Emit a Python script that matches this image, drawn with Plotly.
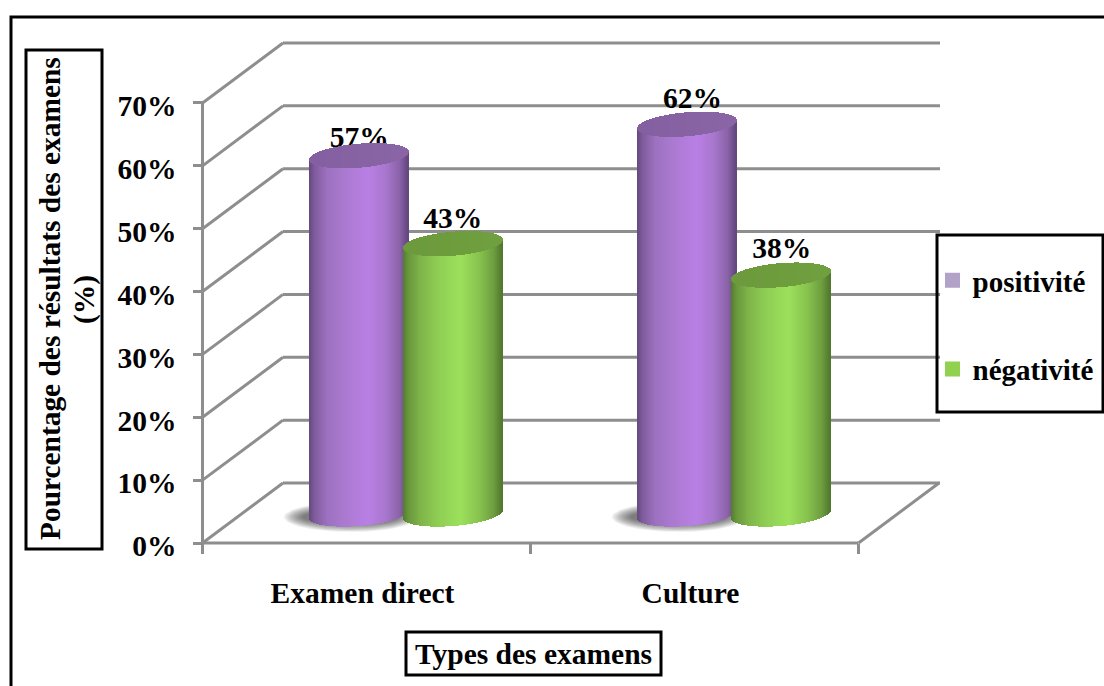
import numpy as np
import plotly.graph_objects as go

# Chart data
categories = ["Examen direct", "Culture"]
series_names = ["positivité", "négativité"]
positivite = [57, 62]
negativite = [43, 38]
y_ticks = [0, 10, 20, 30, 40, 50, 60, 70]

# Fine placement of the value labels above each cylinder, in axis units
label_lift = {"positivité": [2.5, 3.7], "négativité": [3.7, 3.85]}
label_shift = {"positivité": [0.002, 0.018], "négativité": [0.0, 0.003]}

# Pixel geometry of the figure
W, H = 1104, 686
PLOT_L, PLOT_R, PLOT_T, PLOT_B = 198, 944, 38, 548
ORIGIN_X, ORIGIN_Y = 202.5, 543
PX_PER_CAT, PX_PER_PCT = 328.0, 6.286

x_range = [(PLOT_L - ORIGIN_X) / PX_PER_CAT, (PLOT_R - ORIGIN_X) / PX_PER_CAT]
y_range = [(ORIGIN_Y - PLOT_B) / PX_PER_PCT, (ORIGIN_Y - PLOT_T) / PX_PER_PCT]

# Perspective offset of the back wall, and cylinder proportions
DEPTH_X, DEPTH_Y = 80.5 / PX_PER_CAT, 60 / PX_PER_PCT
FLOOR_LIFT = 29 / PX_PER_PCT
CENTER_SHIFT = [-47 / PX_PER_CAT, 47 / PX_PER_CAT]
CAT_CENTER = [0.5 + 0.1195, 1.5 + 0.1195]
HALF_W = 49.5 / PX_PER_CAT
ELL_B = 12 / PX_PER_PCT
ELL_SHEAR = 4 / PX_PER_PCT
N_STRIPS = 99

PURPLE_STOPS = [(0, "#664a80"), (0.05, "#7f5c9c"), (0.18, "#9d71c0"), (0.35, "#aa7ad0"),
                (0.6, "#ba80e5"), (0.78, "#a877ce"), (0.92, "#8b63a9"), (1, "#644880")]
GREEN_STOPS = [(0, "#557f30"), (0.05, "#69973d"), (0.18, "#80b64a"), (0.35, "#8fce54"),
               (0.58, "#9ce15c"), (0.78, "#87c24e"), (0.92, "#6e9e40"), (1, "#527a2e")]
PURPLE_CAP = ("#8460a2", "#8a66a6")
GREEN_CAP = ("#6c9a3c", "#70a040")
GRID_COLOR = "#8e8e8e"
FONT = "Liberation Serif"
FS = 29.5
FS_SIDE = 29.4
FS_LEGEND = 29


def hex_rgb(c):
    return np.array([int(c[i:i + 2], 16) for i in (1, 3, 5)], dtype=float)


def ramp(stops, n):
    pos = [s[0] for s in stops]
    rgb = np.array([hex_rgb(s[1]) for s in stops])
    out = []
    for f in np.linspace(0, 1, n):
        vals = [np.interp(f, pos, rgb[:, k]) for k in range(3)]
        out.append("rgb(%d,%d,%d)" % tuple(vals))
    return out


def cylinder_traces(center, value, stops, cap):
    """Body and cap of one cylinder, built as thin bars on the shared axes."""
    t = (np.arange(N_STRIPS) + 0.5) / N_STRIPS * 2 - 1
    xs = center + t * HALF_W
    arc = ELL_B * np.sqrt(1 - t ** 2)
    tilt = ELL_SHEAR * t
    mid = value + FLOOR_LIFT
    strip = 2 * HALF_W / N_STRIPS * 1.25
    bottom = FLOOR_LIFT + tilt - arc
    body = go.Bar(x=xs, base=bottom, y=mid + tilt - bottom, width=strip,
                  marker=dict(color=ramp(stops, N_STRIPS), line_width=0),
                  xaxis="x2", yaxis="y2", showlegend=False, hoverinfo="skip")
    top = go.Bar(x=xs, base=mid + tilt - arc, y=2 * arc, width=strip,
                 marker=dict(color=ramp([(0, cap[0]), (1, cap[1])], N_STRIPS), line_width=0),
                 xaxis="x2", yaxis="y2", showlegend=False, hoverinfo="skip")
    return [body, top]


def shadow_traces(center):
    """Soft floor shadow, stacked translucent ellipses."""
    out = []
    th = np.linspace(0, 2 * np.pi, 80)
    cx = center - 8 / PX_PER_CAT
    for k in range(12):
        rx = (67 - 1.7 * k) / PX_PER_CAT
        ry = (15 - 0.7 * k) / PX_PER_PCT
        out.append(go.Scatter(x=cx + rx * np.cos(th),
                              y=FLOOR_LIFT - 3 / PX_PER_PCT + ry * np.sin(th),
                              mode="lines", line_width=0, fill="toself",
                              fillcolor="rgba(0,0,0,0.055)",
                              showlegend=False, hoverinfo="skip"))
    return out


fig = go.Figure()

for c in CAT_CENTER:
    for tr in shadow_traces(c + CENTER_SHIFT[0]):
        fig.add_trace(tr)

# Cylinders live on an overlaying axis pair so they cover the value labels
for i, cat in enumerate(categories):
    for tr in cylinder_traces(CAT_CENTER[i] + CENTER_SHIFT[0], positivite[i], PURPLE_STOPS, PURPLE_CAP):
        fig.add_trace(tr)
    for tr in cylinder_traces(CAT_CENTER[i] + CENTER_SHIFT[1], negativite[i], GREEN_STOPS, GREEN_CAP):
        fig.add_trace(tr)

# Value labels
for j, (name, vals) in enumerate(zip(series_names, (positivite, negativite))):
    fig.add_trace(go.Scatter(
        x=[CAT_CENTER[i] + CENTER_SHIFT[j] + label_shift[name][i] for i in range(2)],
        y=[vals[i] + FLOOR_LIFT + label_lift[name][i] for i in range(2)],
        mode="text", text=[f"{v}%" for v in vals], textposition="middle center",
        textfont=dict(family=FONT, size=FS, color="black", weight="bold"),
        showlegend=False, hoverinfo="skip", cliponaxis=False))

# Legend entries
for name, col in zip(series_names, ("#b3a2c7", "#92d050")):
    fig.add_trace(go.Scatter(x=[None], y=[None], mode="markers", name=name, legendgroup=name,
                             marker=dict(symbol="square", size=15, color=col)))

shapes = []


def grid_seg(x0, y0, x1, y1):
    shapes.append(dict(type="line", xref="x", yref="y", layer="below", x0=x0, y0=y0, x1=x1, y1=y1,
                       line=dict(color=GRID_COLOR, width=3)))


# Side wall and back wall lines for every tick, then the floor and the wall edge
for tick in y_ticks:
    grid_seg(0, tick, DEPTH_X, tick + DEPTH_Y)
    grid_seg(DEPTH_X, tick + DEPTH_Y, (940 - ORIGIN_X) / PX_PER_CAT, tick + DEPTH_Y)
grid_seg(0, 0, 2, 0)
grid_seg(2, 0, 2 + DEPTH_X, DEPTH_Y)
grid_seg(0, 0, 0, y_ticks[-1])


def box(x0, y0, x1, y1, width=2.5):
    shapes.append(dict(type="rect", xref="paper", yref="paper", layer="above",
                       x0=(x0 - PLOT_L) / (PLOT_R - PLOT_L), x1=(x1 - PLOT_L) / (PLOT_R - PLOT_L),
                       y0=(PLOT_B - y1) / (PLOT_B - PLOT_T), y1=(PLOT_B - y0) / (PLOT_B - PLOT_T),
                       line=dict(color="black", width=width)))


def paper_x(px):
    return (px - PLOT_L) / (PLOT_R - PLOT_L)


def paper_y(py):
    return (PLOT_B - py) / (PLOT_B - PLOT_T)


# Outer frame runs off the right and bottom edges of the page
box(11, 17, 1110, 700, 3)
box(26, 50, 102, 549, 3)
box(406, 632, 661, 675, 3)
box(937, 235, 1103, 412, 3)

title_font = dict(family=FONT, size=FS, color="black", weight="bold")
side_font = dict(family=FONT, size=FS_SIDE, color="black", weight="bold")
annotations = [
    dict(text="Pourcentage des résultats des examens", textangle=-90, x=paper_x(50), y=paper_y(299),
         xref="paper", yref="paper", showarrow=False, font=side_font, xanchor="center", yanchor="middle"),
    dict(text="(%)", textangle=-90, x=paper_x(84), y=paper_y(300),
         xref="paper", yref="paper", showarrow=False, font=side_font, xanchor="center", yanchor="middle"),
    dict(text="Types des examens", x=paper_x(533), y=paper_y(654),
         xref="paper", yref="paper", showarrow=False, font=title_font, xanchor="center", yanchor="middle"),
]

tick_font = dict(family=FONT, size=FS, color="black", weight="bold")

fig.update_layout(
    width=W, height=H,
    margin=dict(l=PLOT_L, r=W - PLOT_R, t=PLOT_T, b=H - PLOT_B, pad=0, autoexpand=False),
    paper_bgcolor="white", plot_bgcolor="white",
    barmode="overlay", bargap=0,
    showlegend=True,
    legend=dict(x=paper_x(932.5), y=paper_y(255), xanchor="left", yanchor="top",
                font=dict(family=FONT, size=FS_LEGEND, color="black", weight="bold"),
                bgcolor="rgba(0,0,0,0)", borderwidth=0, tracegroupgap=48,
                itemclick=False, itemdoubleclick=False),
    xaxis=dict(range=x_range, anchor="free", position=(PLOT_B - ORIGIN_Y) / (PLOT_B - PLOT_T),
               tickvals=[0.5, 1.5], ticktext=categories, ticks="", tickfont=tick_font,
               ticklabelstandoff=29, ticklabelshift=-4,
               minor=dict(tickvals=[0, 1, 2], ticks="outside", ticklen=10, tickwidth=3,
                          tickcolor=GRID_COLOR, showgrid=False),
               showgrid=False, zeroline=False, showline=False),
    yaxis=dict(range=y_range, anchor="free", position=(ORIGIN_X - PLOT_L) / (PLOT_R - PLOT_L),
               tickvals=y_ticks, ticktext=[f"{t}%" for t in y_ticks], ticks="outside",
               ticklen=10, tickwidth=3, tickcolor=GRID_COLOR, tickfont=tick_font,
               ticklabelstandoff=10, ticklabelshift=3, showgrid=False, zeroline=False, showline=False),
    xaxis2=dict(range=x_range, overlaying="x", anchor="y2", visible=False),
    yaxis2=dict(range=y_range, overlaying="y", anchor="x2", visible=False),
    shapes=shapes, annotations=annotations,
)

fig.write_html("out.html", config={"displayModeBar": False})
